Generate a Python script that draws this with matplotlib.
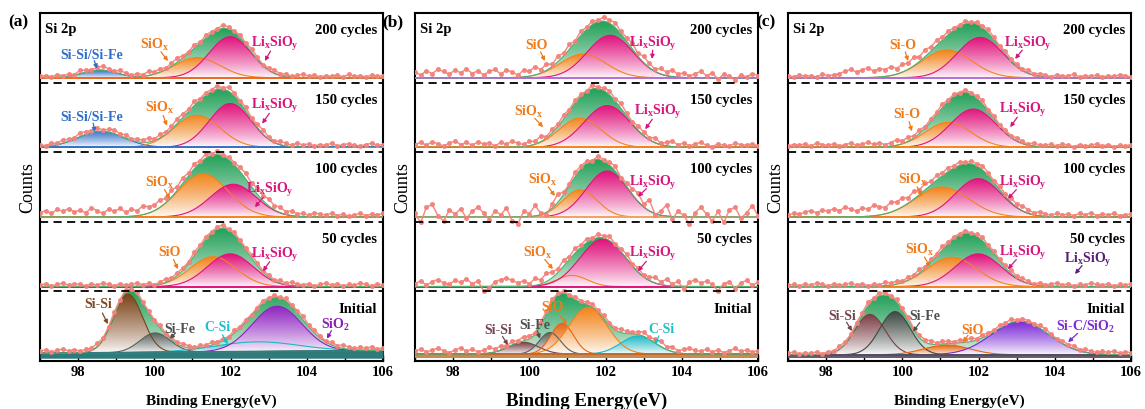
import numpy as np
import matplotlib
matplotlib.use("Agg")
import matplotlib.pyplot as plt
from matplotlib.colors import LinearSegmentedColormap

plt.rcParams["font.family"] = ["Liberation Serif", "DejaVu Serif"]
plt.rcParams["font.weight"] = "bold"
plt.rcParams["mathtext.default"] = "regular"

# ---------------- data ----------------
ENERGY_TICKS = [98, 100, 102, 104, 106]
CYCLE_LABELS = ["Initial", "50 cycles", "100 cycles", "150 cycles", "200 cycles"]
PANEL_TAGS = ["(a)", "(b)", "(c)"]

# fitted components: (kind, centre eV, height, sigma eV); height in units of one sub-panel
A200_PEAKS = [("SiSiFe", 98.57, 0.11, 0.45), ("SiOx", 101.12, 0.29, 0.60), ("LixSiOy", 101.99, 0.59, 0.55)]
A150_PEAKS = [("SiSiFe", 98.60, 0.23, 0.60), ("SiOx", 101.12, 0.46, 0.60), ("LixSiOy", 101.99, 0.63, 0.55)]
A100_PEAKS = [("SiOx", 101.28, 0.62, 0.65), ("LixSiOy", 102.07, 0.47, 0.60)]
A50_PEAKS = [("SiOx", 101.54, 0.43, 0.60), ("LixSiOy", 101.99, 0.47, 0.60)]
AINIT_PEAKS = [("SiSi", 99.31, 0.84, 0.38), ("SiFe", 100.02, 0.28, 0.40),
               ("CSi", 102.70, 0.14, 1.10), ("SiO2", 103.22, 0.65, 0.65)]

B200_PEAKS = [("SiOx", 101.41, 0.34, 0.60), ("LixSiOy", 102.12, 0.61, 0.60)]
B150_PEAKS = [("SiOx", 101.33, 0.42, 0.55), ("LixSiOy", 102.04, 0.60, 0.60)]
B100_PEAKS = [("SiOx", 101.33, 0.39, 0.45), ("LixSiOy", 102.04, 0.66, 0.55)]
B50_PEAKS = [("SiOx", 101.12, 0.16, 0.40), ("LixSiOy", 101.93, 0.68, 0.60)]
BINIT_PEAKS = [("SiSiB", 99.84, 0.17, 0.40), ("SiFe", 100.54, 0.31, 0.28), ("SiO", 100.86, 0.44, 0.30),
               ("SiOx", 101.54, 0.67, 0.50), ("CSi", 102.85, 0.26, 0.45)]

C200_PEAKS = [("SiOx", 101.17, 0.40, 0.65), ("LixSiOy", 102.04, 0.58, 0.60)]
C150_PEAKS = [("SiOx", 101.20, 0.36, 0.60), ("LixSiOy", 101.86, 0.55, 0.60)]
C100_PEAKS = [("SiOx", 101.04, 0.43, 0.70), ("LixSiOy", 101.99, 0.55, 0.60)]
C50_PEAKS = [("SiOx", 101.30, 0.42, 0.65), ("LixSiOy", 101.99, 0.47, 0.60)]
CINIT_PEAKS = [("SiSiB", 99.15, 0.58, 0.40), ("SiFeC", 99.81, 0.62, 0.40),
               ("SiO", 101.17, 0.14, 0.60), ("SiCSiO2", 103.09, 0.48, 0.75)]

# linear background (left, right) per sub-panel, Initial -> 200 cycles
A_BG = [(0.04, 0.08), (0, 0), (0, 0), (0, 0), (0, 0)]
B_BG = [(0.03, 0.03), (0, 0), (0, 0), (0, 0), (0, 0)]
C_BG = [(0.02, 0.02), (0, 0), (0, 0), (0, 0), (0, 0)]

# measured points minus fit, in hundredths of a sub-panel (97 -> 106 eV)
A200_RES = [2, 3, 1, 4, 2, 3, 1, 5, 3, 2, 4, 6, 3, 2, 5, 3, 1, 4, 2, 6, 3, 5, 2, 4, 6, 3, 2, 5, 1, 4, 3,
            2, 5, 3, 1, 4, 2, 5, 3, 1, 3, 5, 2, 4, 1, 3, 5, 2, 4, 1, 3, 2, 4, 1, 5, 2, 3, 1, 4, 2, 3]
A150_RES = [3, 1, 4, 2, 5, 3, 2, 6, 4, 3, 5, 2, 4, 6, 3, 5, 2, 4, 3, 6, 2, 5, 3, 4, 7, 5, 3, 6, 2, 4, 3,
            5, 2, 6, 4, 3, 5, 2, 4, 6, 3, 2, 5, 4, 2, 6, 3, 5, 2, 4, 3, 6, 2, 4, 5, 3, 2, 4, 6, 3, 4]
A100_RES = [6, 9, 5, 11, 8, 12, 7, 10, 6, 13, 9, 5, 11, 8, 12, 6, 10, 7, 13, 9, 8, 11, 6, 10, 5, 8, 4, 7, 3,
            6, 2, 5, 1, 4, 3, 6, 8, 5, 9, 7, 10, 6, 8, 4, 7, 3, 5, 2, 6, 4, 3, 5, 2, 4, 1, 3, 5, 2, 4, 3, 5]
A50_RES = [2, 4, 1, 3, 5, 2, 4, 3, 1, 4, 2, 5, 3, 1, 4, 2, 3, 5, 2, 4, 1, 3, 5, 2, 4, 3, 2, 5, 3, 4, 2,
           3, 5, 1, 4, 2, 3, 5, 4, 2, 3, 1, 4, 2, 5, 3, 2, 4, 1, 3, 5, 2, 4, 1, 3, 2, 5, 3, 1, 4, 2]
AINIT_RES = [3, 5, 2, 4, 6, 3, 5, 2, 4, 3, 5, 2, 3, 4, 2, 3, 1, 4, 2, 3, 2, 4, 1, 3, 2, 4, 3, 1, 3, 2, 4,
             2, 3, 1, 4, 2, 3, 1, 2, 4, 2, 3, 1, 4, 2, 3, 5, 2, 4, 3, 1, 4, 2, 5, 3, 2, 4, 3, 5, 2, 4]

B200_RES = [8, 4, 10, 6, 12, 9, 5, 11, 7, 13, 6, 10, 4, 9, 12, 5, 11, 8, 3, 10, 7, 12, 5, 9, 3, 8, 4, 7, 2,
            6, 3, 5, 2, 6, 4, 7, 3, 5, 8, 4, 9, 6, 3, 8, 5, 10, 4, 7, 2, 6, 9, 3, 7, -2, 5, 2, -3, 4, 1, 6, 3]
B150_RES = [4, 7, 3, 8, 5, 2, 6, 9, 4, 7, 3, 8, 5, 6, 2, 7, 4, 9, 5, 3, 6, 4, 8, 2, 5, 3, 6, 2, 4, 3, 1,
            5, 2, 4, 6, 3, 7, 4, 2, 6, 5, 3, 7, 2, 5, 8, 3, 6, 2, 5, 7, 3, 1, 5, 3, 2, 6, 4, 3, 5, 2]
B100_RES = [5, -8, 14, 18, 2, -6, 10, 4, 12, -2, 8, 14, 6, -4, 9, 3, 13, -6, -10, 8, 4, 15, 2, -4, 6, 12,
            3, 2, 6, 4, 3, -1, 5, 2, 4, 7, 1, 5, 8, 12, 4, 16, -2, 6, 16, -4, 8, 2, -10, 6, 14, 4, -6, 8,
            -8, 10, 14, -2, 6, 16, 2]
B50_RES = [4, 8, 2, 7, 10, 5, 3, 9, 6, 11, 4, 8, -6, -2, 7, 10, 12, 9, 5, 8, 3, 10, 6, 12, 8, 5, 9, 4, 7,
           3, 6, 2, 5, 3, 6, 2, 4, 7, 3, 6, 2, 5, 8, 4, 9, 3, 7, -4, 6, 10, 5, 8, 3, -6, 4, 7, -3, 5, 9, 2, 6]
BINIT_RES = [4, 7, 3, 6, 8, 5, 2, 6, 9, 4, 7, 3, 5, 8, 4, 6, 2, 5, 3, 6, 4, 2, 5, 3, 4, 2, 3, 1, 4, 2, 3,
             5, 2, 4, 3, 2, 5, 3, 2, 4, 6, 3, 5, 8, 4, 7, 3, 6, 8, 5, 4, 7, 3, 6, 2, 5, 8, 4, 6, 3, 5]

C200_RES = [3, 1, 4, 2, 3, 1, 5, 3, 4, 6, 9, 12, 8, 11, 14, 9, 12, 10, 13, 8, 11, 9, 12, 7, 10, 6, 8, 4, 5,
            3, 2, 4, 1, 3, 2, 5, 3, 1, 4, 2, 3, 1, 5, 2, 4, 3, 1, 4, 2, 3, 5, 1, 3, 2, 4, 1, 3, 2, 4, 3, 1]
C150_RES = [2, 4, 3, 5, 2, 6, 4, 3, 5, 2, 4, 6, 3, 5, 7, 4, 6, 3, 5, 8, 4, 6, 3, 5, 2, 4, 3, 5, 2, 3, 1,
            4, 2, 3, 5, 2, 4, 1, 3, 2, 4, 3, 1, 5, 2, 3, 4, 2, 5, 3, 1, 4, 2, 3, 5, 2, 4, 1, 3, 2, 4]
C100_RES = [3, 5, 4, 7, 9, 6, 10, 8, 12, 9, 14, 11, 8, 13, 10, 15, 12, 9, 14, 11, 13, 8, 11, 7, 9, 5, 7, 4,
            6, 3, 5, 2, 4, 3, 6, 4, 2, 5, 3, 6, 4, 7, 5, 3, 6, 4, 2, 5, 3, 4, 2, 5, 3, 6, 2, 4, 3, 5, 2, 3, 4]
C50_RES = [2, 3, 1, 4, 2, 5, 3, 1, 4, 2, 3, 5, 2, 4, 1, 3, 2, 5, 3, 4, 2, 4, 3, 5, 2, 4, 3, 5, 2, 3, 2,
           4, 1, 3, 5, 2, 4, 2, 3, 5, 2, 4, 3, 1, 4, 2, 3, 5, 2, 4, 1, 3, 2, 5, 3, 2, 4, 1, 3, 2, 4]
CINIT_RES = [2, 4, 1, 3, 2, 4, 1, 3, 2, 4, 3, 2, 4, 3, 5, 2, 4, 3, 2, 4, 3, 5, 2, 4, 3, 5, 2, 4, 3, 2, 4,
             3, 5, 2, 4, 3, 2, 4, 3, 5, 2, 4, 3, 2, 4, 5, 3, 2, 4, 3, 5, 2, 4, 3, 2, 4, 3, 5, 2, 4, 3]

# ---------------- styles ----------------
PEAK_COLORS = {
    "SiOx": "#F2841C", "SiO": "#E8650F", "LixSiOy": "#E0137C", "SiSiFe": "#3672C8",
    "SiSi": "#7A4216", "SiFe": "#56605A", "CSi": "#1CB8C4", "SiO2": "#8E22C0",
    "SiSiB": "#7A3F45", "SiFeC": "#3E4842", "SiCSiO2": "#7A28D6",
}
TEXT_COLORS = {
    "or": "#F07A1A", "mg": "#D6157E", "bl": "#2F6DC8", "br": "#7A4A22", "gy": "#4F4F4F",
    "cy": "#1FBFC8", "pu": "#8A1FB5", "mv": "#74454F", "vi": "#7B2BD0", "dp": "#5A1F7A",
}
GREEN = "#22A058"
RAW_COLOR = "#F2827A"
A_LINES = ["#2F7F80", "#E0137C", "#F2841C", "#3672C8", "#F06A20"]
B_LINES = ["#C06A30", "#E0137C", "#F4A060", "#F2841C", "#B070D8"]
C_LINES = ["#505060", "#F2841C", "#F2841C", "#F2841C", "#B070D8"]
BAND_COLORS = ["#2F7A7A", "#C98A50", "#6A5A70"]

LIX = "Li$_x$SiO$_y$"
SIOX = "SiO$_x$"
# (text, colour, text x, text y, arrow tip x, arrow tip y)
A_NOTES = [
    ("Si-Si/Si-Fe", "bl", 98.36, 4.41, 98.50, 4.20), (SIOX, "or", 100.02, 4.55, 100.36, 4.31),
    (LIX, "mg", 103.17, 4.57, 102.90, 4.31),
    ("Si-Si/Si-Fe", "bl", 98.36, 3.52, 98.44, 3.29), (SIOX, "or", 100.15, 3.65, 100.33, 3.38),
    (LIX, "mg", 103.17, 3.68, 102.83, 3.41),
    (SIOX, "or", 100.15, 2.57, 100.41, 2.33), (LIX, "mg", 103.04, 2.47, 102.64, 2.21),
    ("SiO", "or", 100.41, 1.57, 100.62, 1.32), (LIX, "mg", 103.17, 1.54, 102.85, 1.29),
    ("Si-Si", "br", 98.52, 0.82, 98.78, 0.53), ("Si-Fe", "gy", 100.67, 0.47, 100.41, 0.32),
    ("C-Si", "cy", 101.67, 0.49, 101.93, 0.24), ("SiO$_2$", "pu", 104.74, 0.53, 104.53, 0.32),
]
B_NOTES = [
    ("SiO", "or", 100.20, 4.55, 100.41, 4.31), (LIX, "mg", 103.25, 4.57, 103.22, 4.34),
    (SIOX, "or", 99.97, 3.59, 100.36, 3.36), (LIX, "mg", 103.38, 3.59, 103.04, 3.33),
    (SIOX, "or", 100.36, 2.61, 100.67, 2.37), (LIX, "mg", 103.25, 2.57, 102.85, 2.36),
    (SIOX, "or", 100.23, 1.57, 100.62, 1.32), (LIX, "mg", 103.25, 1.55, 102.85, 1.29),
    ("SiO", "or", 100.62, 0.78, 100.99, 0.53), ("Si-Fe", "gy", 100.15, 0.53, 100.28, 0.32),
    ("Si-Si", "mv", 99.18, 0.45, 99.44, 0.23), ("C-Si", "cy", 103.48, 0.46, 103.30, 0.24),
]
C_NOTES = [
    ("Si-O", "or", 100.02, 4.55, 100.15, 4.31), (LIX, "mg", 103.30, 4.57, 102.96, 4.34),
    ("Si-O", "or", 100.12, 3.55, 100.25, 3.30), (LIX, "mg", 103.17, 3.62, 102.83, 3.36),
    (SIOX, "or", 100.28, 2.61, 100.52, 2.37), (LIX, "mg", 103.17, 2.57, 102.77, 2.33),
    (SIOX, "or", 100.46, 1.61, 100.73, 1.35), (LIX, "mg", 103.17, 1.57, 102.77, 1.32),
    (LIX, "dp", 104.87, 1.47, 104.53, 1.25),
    ("Si-Si", "mv", 98.42, 0.66, 98.68, 0.43), ("Si-Fe", "gy", 100.60, 0.66, 100.28, 0.42),
    ("SiO", "or", 101.83, 0.45, 101.59, 0.27), ("Si-C/SiO$_2$", "vi", 104.80, 0.50, 104.35, 0.27),
]

PANELS = [
    ([AINIT_PEAKS, A50_PEAKS, A100_PEAKS, A150_PEAKS, A200_PEAKS],
     [AINIT_RES, A50_RES, A100_RES, A150_RES, A200_RES], A_BG, A_LINES, A_NOTES),
    ([BINIT_PEAKS, B50_PEAKS, B100_PEAKS, B150_PEAKS, B200_PEAKS],
     [BINIT_RES, B50_RES, B100_RES, B150_RES, B200_RES], B_BG, B_LINES, B_NOTES),
    ([CINIT_PEAKS, C50_PEAKS, C100_PEAKS, C150_PEAKS, C200_PEAKS],
     [CINIT_RES, C50_RES, C100_RES, C150_RES, C200_RES], C_BG, C_LINES, C_NOTES),
]

W, H = 1145, 410
AX_LEFT_PX = [40, 415, 788]
AX_W_PX, AX_TOP_PX, AX_BOT_PX = 343, 14, 362
XLABEL_SIZES = [11, 13.5, 11]


def gauss(x, c, h, s):
    return h * np.exp(-0.5 * ((x - c) / s) ** 2)


def grad_fill(ax, x, lo, hi, color, z, light="#ffffff"):
    """Fill between lo and hi with a vertical white->colour gradient."""
    poly = ax.fill_between(x, lo, hi, facecolor="none", edgecolor="none", zorder=z)
    cmap = LinearSegmentedColormap.from_list("g", [light, color])
    grad = np.linspace(0, 1, 256).reshape(-1, 1) ** 0.8
    im = ax.imshow(grad, extent=[x[0], x[-1], lo.min(), hi.max()], origin="lower",
                   aspect="auto", cmap=cmap, zorder=z, interpolation="bilinear")
    im.set_clip_path(poly.get_paths()[0], transform=ax.transData)


def draw_panel(ax, peaks_all, res_all, bg_all, line_colors, notes, band_color):
    x = np.linspace(97, 106, 500)
    for k in range(5):
        base = k + 0.07
        b0, b1 = bg_all[k]
        bg = base + b0 + (b1 - b0) * (x - 97) / 9.0
        comps = [gauss(x, c, h, s) for _, c, h, s in peaks_all[k]]
        total = bg + np.sum(comps, axis=0)

        grad_fill(ax, x, np.full_like(x, base), total, GREEN, 2, light="#eef7f1")
        for (kind, _, _, _), comp in zip(peaks_all[k], comps):
            grad_fill(ax, x, bg, bg + comp, PEAK_COLORS[kind], 3)
            ax.plot(x, bg + comp, color=PEAK_COLORS[kind], lw=0.8, zorder=4)
        if b0 or b1:
            ax.fill_between(x, base - 0.03, bg, color=band_color, lw=0, zorder=3.5)
        ax.plot(x, bg, color=line_colors[k], lw=1.4, zorder=4)
        ax.plot(x, total, color="#4FAF70", lw=0.8, zorder=6)

        res = np.array(res_all[k]) / 100.0
        xr = np.linspace(97, 106, len(res))
        fit_r = base + b0 + (b1 - b0) * (xr - 97) / 9.0
        fit_r = fit_r + np.sum([gauss(xr, c, h, s) for _, c, h, s in peaks_all[k]], axis=0)
        ax.plot(xr, fit_r + res, "-o", color=RAW_COLOR, ms=2.6, lw=1.1, alpha=0.9, zorder=7)

        ax.text(105.85, k + 0.76, CYCLE_LABELS[k], ha="right", va="center", fontsize=10.5, zorder=9)
        if k < 4:
            ax.axhline(k + 1, color="k", lw=1.3, ls=(0, (4.5, 3)), zorder=8)

    ax.text(97.13, 4.78, "Si 2p", ha="left", va="center", fontsize=10.5, zorder=9)

    for text, ckey, tx, ty, px, py in notes:
        col = TEXT_COLORS[ckey]
        ax.text(tx, ty, text, color=col, ha="center", va="center", fontsize=10, zorder=9)
        sx, sy = tx + 0.45 * (px - tx), ty + 0.45 * (py - ty)
        ax.annotate("", xy=(px, py), xytext=(sx, sy), zorder=9,
                    arrowprops=dict(arrowstyle="-|>", color=col, lw=0.9,
                                    mutation_scale=6, shrinkA=0, shrinkB=0))

    ax.set_xlim(97, 106)
    ax.set_ylim(0, 5)
    ax.set_yticks([])
    ax.set_xticks(ENERGY_TICKS)
    ax.set_xticks([97, 99, 101, 103, 105], minor=True)
    ax.tick_params(axis="x", which="both", direction="in", length=4, width=1, pad=3, labelsize=10.5)
    for sp in ax.spines.values():
        sp.set_linewidth(1.5)


fig = plt.figure(figsize=(W / 100, H / 100), dpi=100)
for i, (peaks_all, res_all, bg_all, lines, notes) in enumerate(PANELS):
    left = AX_LEFT_PX[i]
    ax = fig.add_axes([left / W, 1 - AX_BOT_PX / H, AX_W_PX / W, (AX_BOT_PX - AX_TOP_PX) / H])
    draw_panel(ax, peaks_all, res_all, bg_all, lines, notes, BAND_COLORS[i])
    ax.set_ylabel("Counts", fontsize=13, labelpad=3)
    fig.text((left + AX_W_PX / 2) / W, 1 - 401 / H, "Binding Energy(eV)",
             ha="center", va="center", fontsize=XLABEL_SIZES[i])
    fig.text((left - 22) / W, 1 - 22 / H, PANEL_TAGS[i], ha="center", va="center", fontsize=12.5)

fig.savefig("out.png", dpi=100)
